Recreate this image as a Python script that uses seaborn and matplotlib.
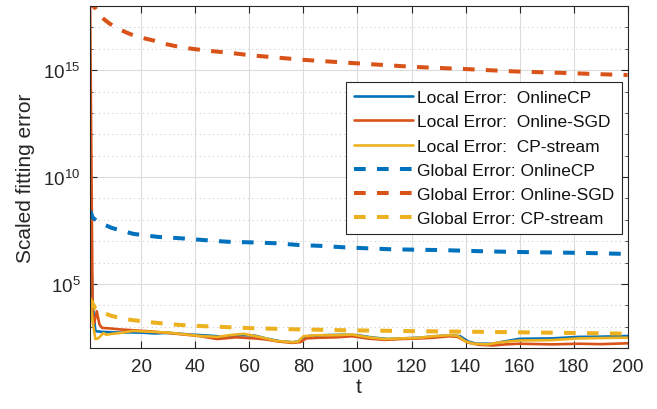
import numpy as np
import pandas as pd
import matplotlib
matplotlib.use("Agg")
import matplotlib.pyplot as plt
import matplotlib.ticker as mticker
import seaborn as sns

# values, stored as log10 of the error
t_local_cp = [1, 2, 3, 5, 8, 12, 16, 20, 25, 30, 38, 45, 50, 58, 62, 66, 71, 76, 78, 80, 82,
              88, 95, 100, 105, 111, 117, 123, 129, 135, 138, 141, 144, 150, 154, 160, 172,
              182, 190, 200]
e_local_cp = [8.43, 4.0, 2.79, 2.76, 2.74, 2.72, 2.73, 2.72, 2.68, 2.71, 2.63, 2.58, 2.53, 2.6,
              2.58, 2.45, 2.32, 2.27, 2.3, 2.5, 2.56, 2.6, 2.62, 2.6, 2.5, 2.42, 2.45, 2.48,
              2.55, 2.6, 2.55, 2.3, 2.2, 2.2, 2.3, 2.43, 2.45, 2.52, 2.53, 2.56]

t_local_sgd = [1, 2, 2.5, 3.5, 4.5, 5.5, 8, 12, 17, 24, 30, 36, 42, 48, 55, 62, 66, 71, 76, 79,
               81, 86, 92, 98, 104, 110, 116, 122, 128, 134, 137, 141, 145, 150, 155, 160,
               172, 182, 190, 200]
e_local_sgd = [18.6, 3.4, 3.15, 3.72, 3.1, 2.94, 2.92, 2.87, 2.83, 2.77, 2.7, 2.63, 2.55, 2.42,
               2.5, 2.45, 2.4, 2.3, 2.24, 2.28, 2.45, 2.48, 2.5, 2.55, 2.44, 2.38, 2.42, 2.44,
               2.48, 2.55, 2.52, 2.25, 2.15, 2.12, 2.17, 2.2, 2.17, 2.2, 2.18, 2.22]

t_local_stream = [1, 2, 3, 4, 6, 7, 9, 12, 17, 23, 30, 36, 42, 48, 54, 58, 62, 65, 70, 76, 78,
                  80, 85, 92, 98, 104, 110, 116, 122, 128, 134, 137, 140, 143, 148, 153, 160,
                  172, 182, 198, 200]
e_local_stream = [4.35, 3.2, 2.42, 2.45, 2.7, 2.62, 2.66, 2.7, 2.8, 2.76, 2.72, 2.64, 2.56, 2.52,
                  2.62, 2.66, 2.56, 2.48, 2.33, 2.27, 2.3, 2.55, 2.6, 2.6, 2.63, 2.5, 2.42, 2.45,
                  2.47, 2.55, 2.6, 2.57, 2.3, 2.2, 2.17, 2.27, 2.35, 2.37, 2.45, 2.48, 2.48]

t_global_cp = [1, 2, 4, 9, 17, 26, 35, 43, 52, 61, 70, 78, 86, 95, 112, 121, 131, 148, 165, 183, 200]
e_global_cp = [8.43, 8.1, 7.9, 7.62, 7.34, 7.2, 7.13, 7.05, 6.97, 6.94, 6.9, 6.82, 6.78, 6.71,
               6.62, 6.6, 6.58, 6.52, 6.48, 6.45, 6.4]

t_global_sgd = [1, 2, 3, 5, 8, 11, 16, 20, 25, 29, 35, 40, 45, 52, 60, 79, 97, 121, 140, 158,
                176, 192, 200]
e_global_sgd = [18.3, 18.0, 17.9, 17.5, 17.2, 16.95, 16.68, 16.52, 16.37, 16.22, 16.06, 15.98,
                15.9, 15.82, 15.7, 15.49, 15.34, 15.15, 15.05, 14.94, 14.87, 14.8, 14.77]

t_global_stream = [1, 3, 6, 9, 13, 17, 22, 26, 34, 43, 51, 60, 75, 95, 120, 150, 175, 200]
e_global_stream = [4.3, 3.85, 3.64, 3.5, 3.38, 3.3, 3.23, 3.17, 3.08, 3.02, 2.98, 2.93, 2.88,
                   2.83, 2.79, 2.75, 2.71, 2.67]

labels = ["Local Error:  OnlineCP", "Local Error:  Online-SGD", "Local Error:  CP-stream",
          "Global Error: OnlineCP", "Global Error: Online-SGD", "Global Error: CP-stream"]

sns.set_style("ticks")
plt.rcParams["font.family"] = ["Liberation Sans", "DejaVu Sans"]

blue, orange, yellow = "#0072BD", "#D95319", "#EDB120"
series = [
    (t_local_cp, e_local_cp, blue, "-"),
    (t_local_sgd, e_local_sgd, orange, "-"),
    (t_local_stream, e_local_stream, yellow, "-"),
    (t_global_cp, e_global_cp, blue, "--"),
    (t_global_sgd, e_global_sgd, orange, "--"),
    (t_global_stream, e_global_stream, yellow, "--"),
]

fig = plt.figure(figsize=(6.57, 4.10), dpi=100)
ax = fig.add_axes([90 / 657, 1 - 349 / 410, 537.7 / 657, 342 / 410])

for (tt, ee, col, ls), lab in zip(series, labels):
    df = pd.DataFrame({"t": tt, "err": 10.0 ** np.array(ee)})
    if ls == "-":
        sns.lineplot(data=df, x="t", y="err", ax=ax, color=col, lw=1.9, label=lab,
                     estimator=None, sort=False)
    else:
        sns.lineplot(data=df, x="t", y="err", ax=ax, color=col, lw=2.9, label=lab,
                     estimator=None, sort=False, linestyle=(0, (2.9, 2.8)))

ax.set_yscale("log")
ax.set_xlim(1, 200)
ax.set_ylim(1e2, 1e18)
ax.set_xticks(range(20, 201, 20))
ax.yaxis.set_major_locator(mticker.FixedLocator([1e5, 1e10, 1e15]))
ax.yaxis.set_minor_locator(mticker.FixedLocator([10.0 ** k for k in range(2, 19)]))
ax.yaxis.set_minor_formatter(mticker.NullFormatter())
ax.yaxis.set_major_formatter(mticker.FuncFormatter(lambda v, p: r"$\mathregular{10^{%d}}$" % round(np.log10(v))))

ax.grid(True, which="major", color="#dcdcdc", lw=0.8, ls="-")
ax.grid(True, which="minor", axis="y", color="#c4c4c4", lw=0.7, ls=(0, (1, 3.5)))
ax.set_axisbelow(True)

ax.tick_params(which="both", direction="in", top=True, right=True, color="#262626",
               labelsize=13.5, labelcolor="#262626", pad=7)
ax.tick_params(which="major", length=5)
ax.tick_params(which="minor", length=2.5)
for s in ax.spines.values():
    s.set_color("#262626")
    s.set_linewidth(0.8)

ax.set_xlabel("t", fontsize=15, color="#262626", labelpad=2)
ax.set_ylabel("Scaled fitting error", fontsize=15, color="#262626", labelpad=6)

leg = ax.legend(loc="upper right", bbox_to_anchor=(0.989, 0.777), fontsize=12.5,
                handlelength=3.4, handletextpad=0.2, labelspacing=0.52, borderpad=0.45,
                borderaxespad=0, fancybox=False, framealpha=1)
leg.get_frame().set_edgecolor("#262626")
leg.get_frame().set_linewidth(0.8)
for txt in leg.get_texts():
    txt.set_color("#111111")

fig.savefig("out.png", dpi=100)
